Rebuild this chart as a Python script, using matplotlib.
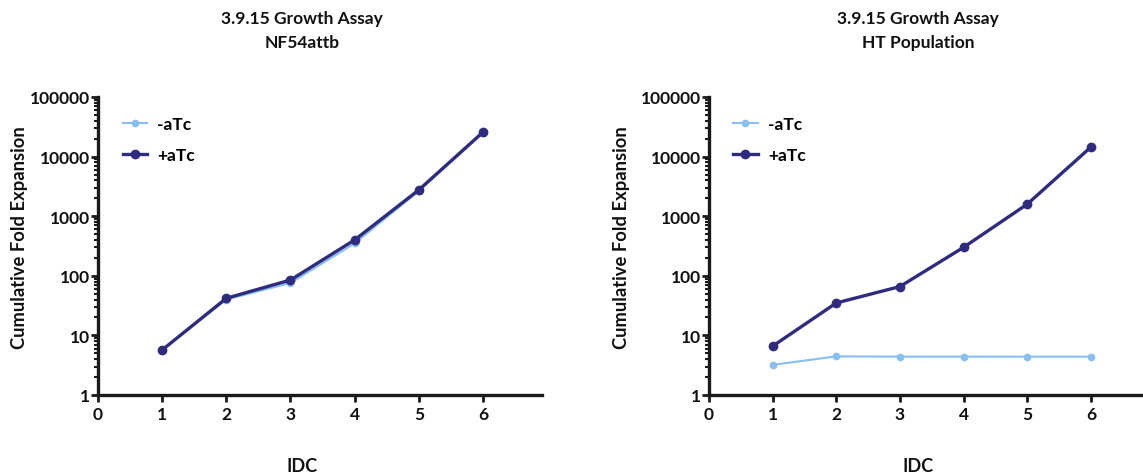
import matplotlib
matplotlib.use("Agg")
import matplotlib.pyplot as plt
from matplotlib.ticker import LogLocator, FixedLocator, NullFormatter

plt.rcParams['font.family'] = ['Lato', 'DejaVu Sans']
plt.rcParams['font.weight'] = 'bold'

idc = [1, 2, 3, 4, 5, 6]
nf54_minus = [5.7, 40, 76, 350, 2650, 25000]
nf54_plus = [5.7, 42, 85, 400, 2760, 25700]
ht_minus = [3.2, 4.45, 4.4, 4.4, 4.4, 4.4]
ht_plus = [6.6, 35, 66, 300, 1590, 14400]

titles = ["3.9.15 Growth Assay\nNF54attb", "3.9.15 Growth Assay\nHT Population"]
ytick_vals = [1, 10, 100, 1000, 10000, 100000]
ytick_labels = ["1", "10", "100", "1000", "10000", "100000"]
xtick_vals = [0, 1, 2, 3, 4, 5, 6]

light = "#86bff0"
dark = "#2f2b7e"
axcol = "#1a1a1a"
txt = "#111111"

W, H = 1143, 477
fig = plt.figure(figsize=(W / 100, H / 100), dpi=100)

panels = [
    dict(left=98, right=542, xmax=6.92, minus=nf54_minus, plus=nf54_plus, title=titles[0], cx=302, ylx=20),
    dict(left=709, right=1143, xmax=6.82, minus=ht_minus, plus=ht_plus, title=titles[1], cx=918, ylx=622),
]
top, bottom = 98, 396

for p in panels:
    aw = p['right'] - p['left']
    ah = bottom - top
    ax = fig.add_axes([p['left'] / W, 1 - bottom / H, aw / W, ah / H])
    ax.set_yscale('log')
    ax.set_ylim(1, 100000)
    ax.set_xlim(0, p['xmax'])
    ax.plot(idc, p['minus'], color=light, lw=1.5, marker='o', ms=4.5, label='-aTc', zorder=3)
    ax.plot(idc, p['plus'], color=dark, lw=2.4, marker='o', ms=6, label='+aTc', zorder=4)
    for s in ['top', 'right']:
        ax.spines[s].set_visible(False)
    for s in ['left', 'bottom']:
        ax.spines[s].set_linewidth(2.4)
        ax.spines[s].set_color(axcol)
    ax.yaxis.set_major_locator(FixedLocator(ytick_vals))
    ax.set_yticklabels(ytick_labels)
    ax.yaxis.set_minor_locator(LogLocator(base=10, subs=range(2, 10)))
    ax.yaxis.set_minor_formatter(NullFormatter())
    ax.set_xticks(xtick_vals)
    ax.set_xticklabels([str(v) for v in xtick_vals])
    ax.tick_params(axis='both', which='major', direction='out', length=5, width=2, color=axcol,
                   labelsize=12.5, pad=1, labelcolor=txt)
    ax.tick_params(axis='y', which='minor', direction='out', length=3, width=1.5, color=axcol)
    ax.tick_params(axis='x', pad=3)
    for lab in ax.get_xticklabels() + ax.get_yticklabels():
        lab.set_fontweight('bold')
    ax.set_ylabel("Cumulative Fold Expansion", fontsize=13.2, fontweight='bold', color=txt)
    ax.yaxis.set_label_coords((p['ylx'] - p['left']) / aw, (bottom - 238) / ah)
    ax.yaxis.label.set_horizontalalignment('center')
    ax.yaxis.label.set_verticalalignment('center')
    ax.set_xlabel("IDC", fontsize=13, fontweight='bold', color=txt)
    ax.xaxis.set_label_coords((p['cx'] - p['left']) / aw, (bottom - 467) / ah)
    ax.xaxis.label.set_verticalalignment('center')
    fig.text(p['cx'] / W, 1 - 31 / H, p['title'], ha='center', va='center', fontsize=12.5,
             fontweight='bold', color=txt, linespacing=1.65)
    leg = ax.legend(loc='upper left', bbox_to_anchor=(0.04, 0.96), frameon=False, fontsize=12.5,
                    handlelength=1.4, handletextpad=0.6, labelspacing=0.85, borderaxespad=0)
    for t in leg.get_texts():
        t.set_fontweight('bold')

fig.savefig("out.png", dpi=100)
